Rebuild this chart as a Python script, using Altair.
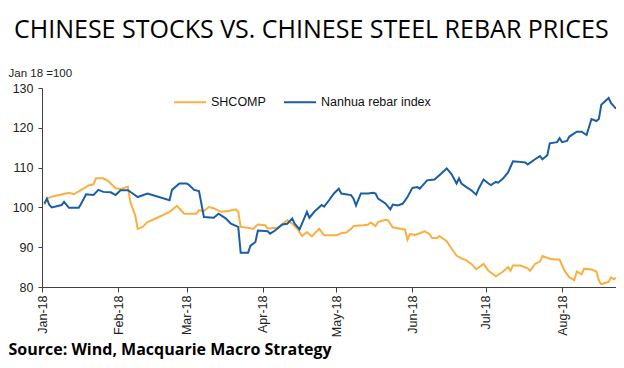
import altair as alt
import pandas as pd

series_names = ["SHCOMP", "Nanhua rebar index"]
series_colors = ["#F8B040", "#1A5FA3"]

nanhua_dates = [
    "2018-01-02", "2018-01-03", "2018-01-04", "2018-01-05", "2018-01-09", "2018-01-10",
    "2018-01-12", "2018-01-16", "2018-01-17", "2018-01-19", "2018-01-22", "2018-01-24",
    "2018-01-26", "2018-01-29", "2018-01-31", "2018-02-02", "2018-02-05", "2018-02-07",
    "2018-02-09", "2018-02-13", "2018-02-22", "2018-02-23", "2018-02-26", "2018-03-01",
    "2018-03-02", "2018-03-04", "2018-03-06", "2018-03-08", "2018-03-12", "2018-03-14",
    "2018-03-17", "2018-03-19", "2018-03-22", "2018-03-23", "2018-03-26", "2018-03-27",
    "2018-03-29", "2018-03-30", "2018-04-03", "2018-04-04", "2018-04-06", "2018-04-09",
    "2018-04-11", "2018-04-13", "2018-04-14", "2018-04-16", "2018-04-19", "2018-04-20",
    "2018-04-22", "2018-04-25", "2018-04-26", "2018-04-28", "2018-04-30", "2018-05-02",
    "2018-05-03", "2018-05-07", "2018-05-08", "2018-05-09", "2018-05-11", "2018-05-14",
    "2018-05-16", "2018-05-17", "2018-05-18", "2018-05-21", "2018-05-23", "2018-05-24",
    "2018-05-26", "2018-05-28", "2018-05-30", "2018-06-01", "2018-06-03", "2018-06-04",
    "2018-06-07", "2018-06-10", "2018-06-12", "2018-06-15", "2018-06-17", "2018-06-19",
    "2018-06-20", "2018-06-21", "2018-06-23", "2018-06-25", "2018-06-27", "2018-06-28",
    "2018-06-30", "2018-07-02", "2018-07-03", "2018-07-05", "2018-07-06", "2018-07-08",
    "2018-07-10", "2018-07-12", "2018-07-14", "2018-07-17", "2018-07-18", "2018-07-21",
    "2018-07-23", "2018-07-24", "2018-07-26", "2018-07-27", "2018-07-30", "2018-07-31",
    "2018-08-01", "2018-08-03", "2018-08-04", "2018-08-07", "2018-08-09", "2018-08-11",
    "2018-08-13", "2018-08-15", "2018-08-16", "2018-08-17", "2018-08-20", "2018-08-21",
    "2018-08-23",
]
nanhua_values = [
    101.0, 102.2, 100.6, 100.0, 100.6, 101.4,
    99.9, 99.9, 101.0, 103.3, 103.1, 104.4,
    103.9, 103.8, 103.1, 104.3, 104.3, 103.5,
    102.6, 103.5, 101.8, 104.4, 106.0, 106.0,
    105.6, 104.4, 104.1, 97.6, 97.4, 98.4,
    97.2, 95.9, 95.1, 88.6, 88.6, 90.4,
    91.3, 94.2, 94.0, 93.4, 94.2, 95.7,
    95.9, 97.2, 95.9, 94.5, 98.9, 97.4,
    98.9, 100.6, 100.2, 101.8, 103.5, 104.7,
    103.5, 103.1, 102.2, 100.5, 103.5, 103.5,
    103.7, 103.5, 102.2, 101.0, 99.5, 100.7,
    100.5, 100.9, 102.6, 104.9, 105.1, 104.7,
    106.8, 107.0, 108.1, 109.8, 108.3, 106.0,
    107.3, 106.0, 105.1, 104.3, 103.2, 104.7,
    107.0, 106.0, 105.6, 106.4, 106.2, 107.3,
    108.8, 111.6, 111.5, 111.3, 110.8, 112.1,
    112.9, 112.1, 113.1, 116.1, 116.4, 117.4,
    116.4, 116.7, 117.8, 119.0, 119.0, 118.2,
    122.2, 121.7, 122.2, 125.8, 127.5, 126.2,
    124.8,
]

shcomp_dates = [
    "2018-01-02", "2018-01-03", "2018-01-05", "2018-01-08", "2018-01-12", "2018-01-14",
    "2018-01-17", "2018-01-20", "2018-01-22", "2018-01-23", "2018-01-26", "2018-01-28",
    "2018-01-31", "2018-02-02", "2018-02-05", "2018-02-06", "2018-02-08", "2018-02-09",
    "2018-02-11", "2018-02-13", "2018-02-17", "2018-02-22", "2018-02-25", "2018-02-28",
    "2018-03-02", "2018-03-05", "2018-03-06", "2018-03-08", "2018-03-10", "2018-03-12",
    "2018-03-15", "2018-03-18", "2018-03-21", "2018-03-22", "2018-03-23", "2018-03-26",
    "2018-03-28", "2018-03-30", "2018-04-02", "2018-04-03", "2018-04-07", "2018-04-11",
    "2018-04-13", "2018-04-15", "2018-04-17", "2018-04-19", "2018-04-21", "2018-04-24",
    "2018-04-26", "2018-04-28", "2018-05-01", "2018-05-03", "2018-05-05", "2018-05-07",
    "2018-05-08", "2018-05-09", "2018-05-12", "2018-05-14", "2018-05-15", "2018-05-17",
    "2018-05-18", "2018-05-21", "2018-05-22", "2018-05-24", "2018-05-29", "2018-05-30",
    "2018-05-31", "2018-06-02", "2018-06-04", "2018-06-06", "2018-06-08", "2018-06-09",
    "2018-06-11", "2018-06-12", "2018-06-15", "2018-06-17", "2018-06-19", "2018-06-21",
    "2018-06-23", "2018-06-25", "2018-06-27", "2018-06-30", "2018-07-02", "2018-07-05",
    "2018-07-08", "2018-07-10", "2018-07-11", "2018-07-12", "2018-07-15", "2018-07-18",
    "2018-07-19", "2018-07-21", "2018-07-23", "2018-07-24", "2018-07-27", "2018-07-29",
    "2018-07-31", "2018-08-02", "2018-08-04", "2018-08-06", "2018-08-07", "2018-08-09",
    "2018-08-10", "2018-08-13", "2018-08-15", "2018-08-16", "2018-08-17", "2018-08-20",
    "2018-08-21", "2018-08-22", "2018-08-23",
]
shcomp_values = [
    100.7, 102.2, 102.7, 103.1, 103.7, 103.3,
    104.4, 105.5, 105.8, 107.3, 107.3, 106.6,
    104.8, 104.6, 105.2, 101.4, 98.0, 94.6,
    95.1, 96.3, 97.4, 98.9, 100.4, 98.4,
    98.4, 98.4, 99.3, 99.1, 100.1, 99.8,
    98.9, 99.1, 99.5, 98.9, 95.1, 94.9,
    94.6, 95.7, 95.5, 94.7, 94.9, 96.8,
    95.9, 94.7, 92.8, 93.8, 92.7, 94.6,
    93.0, 93.0, 93.0, 93.5, 93.7, 94.6,
    95.3, 95.4, 95.5, 95.7, 96.2, 95.3,
    96.3, 96.9, 96.8, 95.0, 94.4, 91.9,
    93.3, 93.1, 93.5, 94.0, 93.3, 92.3,
    92.3, 92.8, 91.5, 89.6, 87.9, 87.2,
    86.7, 85.8, 84.5, 85.8, 84.1, 82.7,
    83.9, 85.0, 84.1, 85.4, 85.4, 84.7,
    84.1, 85.8, 86.4, 87.8, 87.1, 86.9,
    86.9, 84.1, 82.4, 81.7, 83.9, 83.2,
    84.6, 84.4, 83.9, 81.6, 80.7, 81.3,
    82.4, 82.0, 82.2,
]

df = pd.concat([
    pd.DataFrame({"date": shcomp_dates, "value": shcomp_values, "series": series_names[0]}),
    pd.DataFrame({"date": nanhua_dates, "value": nanhua_values, "series": series_names[1]}),
])

axis_color = "#404040"
label_font = "Liberation Sans"

chart = alt.Chart(df).mark_line(strokeWidth=2, interpolate="linear").encode(
    x=alt.X(
        "date:T",
        scale=alt.Scale(
            type="utc",
            domain=[alt.DateTime(year=2018, month=1, date=1, utc=True),
                    alt.DateTime(year=2018, month=8, date=23, utc=True)],
        ),
        axis=alt.Axis(
            labelExpr="utcFormat(datum.value, '%b-%y')", tickCount="month", labelAngle=-90,
            labelAlign="right", labelBaseline="middle", labelPadding=3,
            labelFont=label_font, labelFontSize=12.5, labelColor="#222222",
            tickSize=5, tickColor=axis_color, domainColor=axis_color, grid=False,
            title="Source: Wind, Macquarie Macro Strategy", titleX=-34, titleY=67,
            titleAlign="left", titleBaseline="alphabetic", titleAngle=0,
            titleFont="Open Sans", titleFontSize=16, titleFontWeight="bold",
            titleColor="#000000", labelOverlap=False,
        ),
    ),
    y=alt.Y(
        "value:Q",
        scale=alt.Scale(domain=[80, 130], nice=False, zero=False),
        axis=alt.Axis(
            values=[80, 90, 100, 110, 120, 130], labelFont=label_font,
            labelFontSize=12.5, labelColor="#222222", labelPadding=5,
            tickSize=4, tickColor=axis_color, domainColor=axis_color, grid=False,
            title="Jan 18 =100", titleX=-34, titleY=-12, titleAlign="left",
            titleBaseline="alphabetic", titleAngle=0, titleFont=label_font,
            titleFontSize=11.5, titleFontWeight="normal", titleColor="#222222",
        ),
    ),
    color=alt.Color(
        "series:N",
        scale=alt.Scale(domain=series_names, range=series_colors),
        sort=series_names,
        legend=alt.Legend(
            title=None, orient="none", legendX=131, legendY=-3, direction="horizontal",
            symbolType="stroke", symbolSize=1024, symbolStrokeWidth=2,
            labelFont=label_font, labelFontSize=12.5, labelColor="#111111",
            labelOffset=4, columnPadding=14,
        ),
    ),
).properties(
    width=574,
    height=199,
    title=alt.TitleParams(
        "CHINESE STOCKS VS. CHINESE STEEL REBAR PRICES",
        font="Open Sans", fontSize=25, fontWeight="normal", color="#000000",
        anchor="start", dx=-28, offset=24, frame="group",
    ),
    autosize=alt.AutoSizeParams(type="none"),
    padding={"left": 34, "top": 80, "right": 0, "bottom": 73},
).configure_view(stroke=None)

chart.save("out.html", embed_options={"renderer": "svg", "actions": False})
